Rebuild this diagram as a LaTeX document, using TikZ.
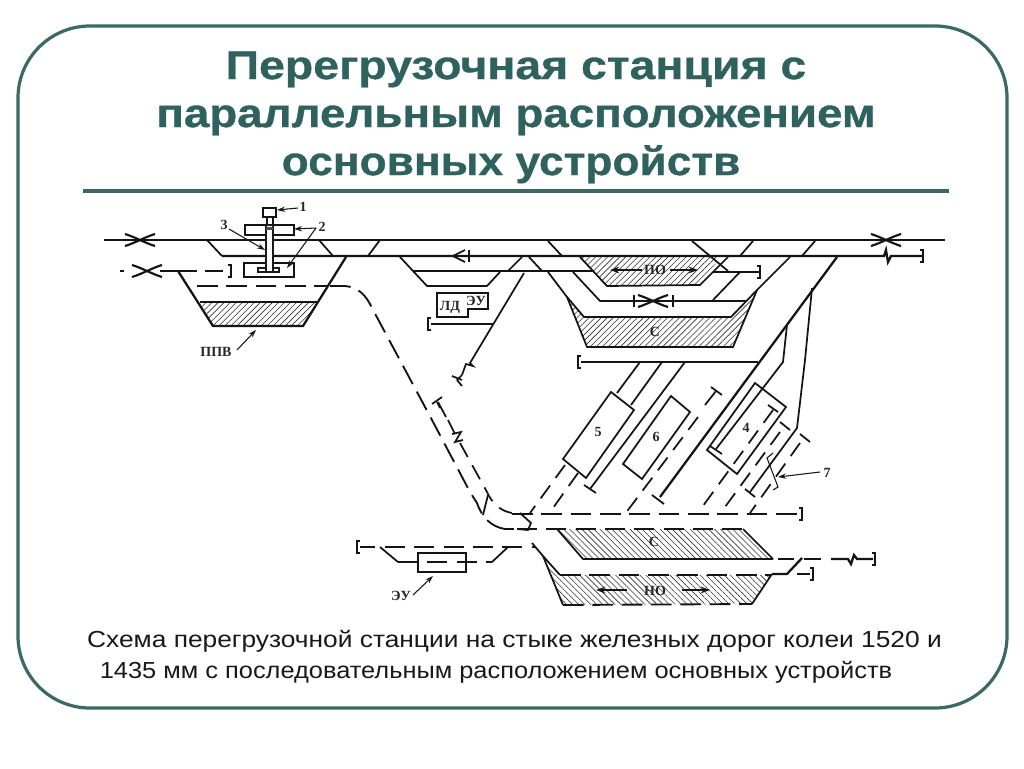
\documentclass[tikz,border=0pt]{standalone}
\usepackage{fontspec}
\setmainfont{Liberation Sans}
\newfontfamily\lblfont{Liberation Serif}
\newfontfamily\titlefont[BoldFeatures={FakeStretch=1.16,FakeBold=0.8}]{Liberation Sans}
\newfontfamily\capafont[FakeStretch=1.135]{Liberation Sans}
\newfontfamily\capbfont[FakeStretch=1.095]{Liberation Sans}
\usetikzlibrary{patterns.meta,arrows.meta}
\definecolor{frameteal}{HTML}{3B6A66}
\definecolor{titleteal}{HTML}{2F625F}
\tikzset{
  rail/.style={line width=1.3pt,black!92},
  railthick/.style={line width=1.7pt,black!92},
  thinline/.style={line width=.8pt,black!90},
  dashrail/.style={line width=1.4pt,black!92,dash pattern=on 15.5pt off 6.5pt},
  dashshort/.style={line width=1.3pt,black!92,dash pattern=on 12pt off 7pt},
  hatchne/.style={pattern={Lines[angle=45,distance=3.2pt,line width=.45pt]},pattern color=black!80},
  hatchnw/.style={pattern={Lines[angle=-45,distance=3.2pt,line width=.45pt]},pattern color=black!80},
  lbl/.style={font=\lblfont\bfseries\fontsize{10.5pt}{11pt}\selectfont,inner sep=0pt,text=black!85},
  titletext/.style={font=\titlefont\bfseries\fontsize{30pt}{34pt}\selectfont,text=titleteal,inner sep=0pt,anchor=base,transform shape},
  capa/.style={font=\capafont\fontsize{17.4pt}{18pt}\selectfont,text=black!90,inner sep=0pt,anchor=base},
  capb/.style={font=\capbfont\fontsize{17.4pt}{18pt}\selectfont,text=black!90,inner sep=0pt,anchor=base},
  pointer/.style={thinline,-{Stealth[length=6pt,width=4pt]}},
  bigarrow/.style={rail,-{Stealth[length=7pt,width=5pt]}}
}
\newcommand{\crossmark}[2]{%
  \draw[line width=1.6pt,black!92] (#1-15,#2-6) .. controls (#1-5,#2-3) and (#1+5,#2+3) .. (#1+15,#2+6);
  \draw[line width=1.6pt,black!92] (#1-15,#2+6) .. controls (#1-5,#2+3) and (#1+5,#2-3) .. (#1+15,#2-6);}
\newcommand{\brL}[2]{\draw[railthick] (#1+3,#2-6) -- (#1,#2-6) -- (#1,#2+6) -- (#1+3,#2+6);}
\newcommand{\brR}[2]{\draw[railthick] (#1-3,#2-6) -- (#1,#2-6) -- (#1,#2+6) -- (#1-3,#2+6);}
\begin{document}
\begin{tikzpicture}[x=0.75pt,y=-0.75pt]
\useasboundingbox (0,0) rectangle (1024,768);
\fill[white] (0,0) rectangle (1024,768);
\draw[frameteal,line width=2.4pt,rounded corners=54pt] (18,26) rectangle (1007,708);
\node[titletext] (t1) at (516,79) {Перегрузочная станция с};
\node[titletext,xscale=0.984] (t2) at (516,127) {параллельным расположением};
\node[titletext,xscale=0.955] (t3) at (511,175) {основных устройств};
\draw[frameteal,line width=3pt] (83,190.5) -- (949,190.5);
\node[capa] (c1) at (514.5,647) {Схема перегрузочной станции на стыке железных дорог колеи 1520 и};
\node[capb] (c2) at (496,678) {1435 мм с последовательным расположением основных устройств};

% hatched areas
\fill[hatchne] (200,302) -- (318,302) -- (303,326) -- (213,326) -- cycle;
\fill[hatchne] (580,257) -- (720,257) -- (700,285) -- (607,286) -- cycle;
\fill[hatchne] (567,297) -- (584,317) -- (731,317) -- (757,290) -- (733,347) -- (587,347) -- cycle;
\fill[hatchnw] (557,529) -- (743,529) -- (773,559) -- (583,559) -- cycle;
\fill[hatchnw] (543,556) -- (560,575) -- (772,575) -- (752,604) -- (563,605) -- cycle;

% main tracks
\draw[rail] (104,240) -- (945,240);
\draw[railthick] (222,256) -- (884,256) -- (886,250) -- (888,262) -- (891,256) -- (923,256);
\brR{923}{256}
\crossmark{140}{240}
\crossmark{886}{240}
\crossmark{147}{271}

% left part
\draw[railthick] (120,271) -- (124,271);
\draw[railthick] (160,271) -- (178,271);
\draw[dashrail,dash pattern=on 14pt off 6pt] (178,271) -- (228,271);
\brR{231}{271}
\draw[rail] (207,240) -- (222,256);
\draw[rail] (319,240) -- (333,256);
\draw[rail] (380,240) -- (368,256);
\draw[railthick] (178,271) -- (213,326) -- (303,326) -- (346,257);
\draw[railthick] (200,302) -- (318,302);
\draw[dashrail] (197,286) -- (329,286);
\draw[dashrail] (330,286) -- (345,286) .. controls (358,287) and (366,295) .. (372,308) -- (432,420) -- (470,492) -- (477,503) .. controls (482,518) and (492,527) .. (505,529);

% device
\draw[rail] (263,208) rectangle (276,217);
\draw[rail] (267,217) -- (267,225) (273,217) -- (273,225);
\draw[rail,fill=white] (245,225) rectangle (294,235);
\draw[rail,fill=white] (244,263) rectangle (294,277);
\draw[thinline,fill=white] (258,268) rectangle (279,272);
\draw[thinline,fill=white] (266,225) rectangle (273,272);
\fill[black!70] (266,227) rectangle (273,230);
\node[lbl] (n1) at (303,207) {1};
\node[lbl] (n2) at (322,227) {2};
\node[lbl] (n3) at (224,225) {3};
\coordinate (a1) at (298,208); \coordinate (a2) at (316,228);
\draw[pointer] (a1) -- (277,210);
\draw[pointer] (a2) -- (294,229);
\draw[pointer] (a2) -- (287,268);
\draw[pointer] (229,229) -- (265,250);
\node[lbl] (ppv) at (216,352) {ППВ};
\draw[pointer] (237,350) -- (256,330);

% second group
\draw[rail] (548,241) -- (562,256);
\draw[rail,-{Straight Barb[length=9pt,width=9pt]}] (469,256) -- (451,256);
\draw[rail] (469,250) -- (469,262);
\draw[rail] (400,257) -- (427,286) -- (487,286) -- (500,272);
\draw[rail] (413,271) -- (593,271);
\draw[rail] (508,271) -- (522,257);
\draw[rail] (529,257) -- (542,271);
\draw[rail] (437,293) -- (488,293) -- (488,309) -- (468,309) -- (468,317) -- (437,317) -- cycle;
\node[lbl] (ld) at (450,307) {ЛД};
\node[lbl] (eu) at (476,301) {ЭУ};
\draw[railthick] (431,324) -- (493,324);
\brL{428}{324}
\draw[rail] (524,273) -- (470,363) -- (473,366) -- (466,364) -- (462,375);
\draw[rail] (462,375) -- (457,380);
\draw[rail] (452,376) -- (462,380);
\draw[rail] (457,380) -- (462,386);

% PO / C upper
\draw[rail] (580,257) -- (607,286) -- (700,285) -- (728,257);
\draw[rail] (692,241) -- (728,271);
\draw[rail] (753,241) -- (740,256);
\draw[rail] (815,241) -- (802,256);
\draw[rail] (713,272) -- (760,272);
\brR{760}{272}
\draw[rail] (740,272) -- (713,300);
\draw[rail] (573,272) -- (600,301) -- (746,301);
\draw[rail] (634,295) -- (634,307);
\draw[rail] (673,295) -- (673,307);
\crossmark{653}{301}
\draw[rail] (548,272) -- (567,297) -- (587,347) -- (733,347) -- (757,290);
\draw[rail] (567,297) -- (584,317) -- (731,317) -- (757,290) -- (790,257);
\draw[railthick] (837,257) -- (660,497);
\draw[railthick] (581,362) -- (758,362);
\brL{578}{362}
\node[lbl] (po1) at (655,270) {ПО};
\draw[bigarrow] (642,270) -- (610,270);
\draw[bigarrow] (670,270) -- (698,270);
\node[lbl] (s1) at (655,332) {С};

% branches
\draw[rail] (812,288) -- (805,360) -- (797,428) -- (750,492);
\draw[rail] (787,325) -- (783,362) -- (716,449);
\draw[rail] (710,446) -- (722,454);
\draw[rail] (640,362) -- (617,393);
\draw[rail] (662,362) -- (631,405);
\draw[rail] (685,362) -- (590,489);
\draw[rail] (584,485) -- (596,493);
\draw[rail] (652,495) -- (664,504);
\draw[rail] (705,405) -- (716,391);
\draw[rail] (711,387) -- (722,395);
\draw[rail,fill=white] (611,392) -- (634,410) -- (586,478) -- (563,459) -- cycle;
\draw[rail,fill=white] (671,396) -- (690,412) -- (642,479) -- (623,464) -- cycle;
\draw[rail] (755,383) -- (786,407) -- (737,474) -- (707,450) -- cycle;
\node[lbl] (b5) at (598,432) {5};
\node[lbl] (b6) at (656,437) {6};
\node[lbl] (b4) at (746,428) {4};
\node[lbl] (b7) at (827,473) {7};
\draw[thinline] (773,453) -- (767,458) -- (778,487) -- (773,490);
\draw[pointer] (820,472) -- (778,477);

% dashed yard lines
\draw[dashshort] (565,465) -- (530,513);
\draw[dashshort] (578,473) -- (553,508);
\draw[dashshort] (698,417) -- (625,514);
\draw[dashshort] (773,410) -- (700,510);
\draw[dashshort] (780,432) -- (725,507);
\draw[dashshort] (800,443) -- (750,513);
\draw[rail] (768,405) -- (778,412);
\draw[rail] (780,422) -- (790,430);
\draw[rail] (800,434) -- (810,442);
\draw[rail] (745,489) -- (755,497);
\draw[dashrail] (512,514) -- (799,514);
\brR{802}{514}
\draw[rail] (438,402) -- (446,417);
\draw[rail] (432,404) -- (442,397);
\draw[rail] (437,402) -- (440,408);
\draw[dashshort] (448,420) -- (455,434);
\draw[rail] (452,434) -- (461,432) -- (455,442) -- (463,440);
\draw[dashshort] (460,443) -- (487,492) .. controls (492,503) and (500,511) .. (512,513);
\draw[rail] (488,495) -- (483,515);
\draw[rail] (520,513) -- (531,523) -- (528,530) -- (517,529);

% lower yard
\draw[dashrail,dash pattern=on 15pt off 7pt] (517,529) -- (743,529);
\draw[rail] (505,529) -- (514,529);
\draw[rail] (557,529) -- (583,559) -- (773,559);
\draw[rail] (743,529) -- (773,559);
\draw[dashshort] (778,559) -- (800,559);
\draw[railthick] (804,559) -- (821,559);
\draw[railthick] (831,559) -- (848,559) -- (851,564) -- (854,555) -- (857,559) -- (873,559);
\brR{875}{559}
\draw[rail] (532,543) -- (543,556) -- (560,575);
\draw[rail] (543,556) -- (563,605);
\draw[dashrail] (560,575) -- (772,575);
\draw[railthick] (772,574) -- (787,574) -- (802,558);
\draw[railthick] (797,574) -- (810,574);
\brR{813}{574}
\draw[rail] (772,574) -- (752,604);
\draw[dashrail] (563,605) -- (752,604);
\node[lbl] (s2) at (654,542) {С};
\node[lbl] (po2) at (655,591) {НО};
\draw[bigarrow] (627,590) -- (596,590);
\draw[bigarrow] (682,590) -- (710,590);

% left lower
\draw[railthick] (360,547) -- (375,547);
\brL{357}{547}
\draw[dashrail,dash pattern=on 15pt off 7pt] (385,547) -- (535,547);
\draw[rail] (380,547) -- (398,562);
\draw[dashrail,dash pattern=on 15pt off 7pt] (398,562) -- (492,562);
\draw[rail] (492,562) -- (508,547);
\draw[rail] (418,553) rectangle (466,572);
\node[lbl] (eu2) at (401,596) {ЭУ};
\draw[pointer] (413,595) -- (433,576);
\end{tikzpicture}
\end{document}
